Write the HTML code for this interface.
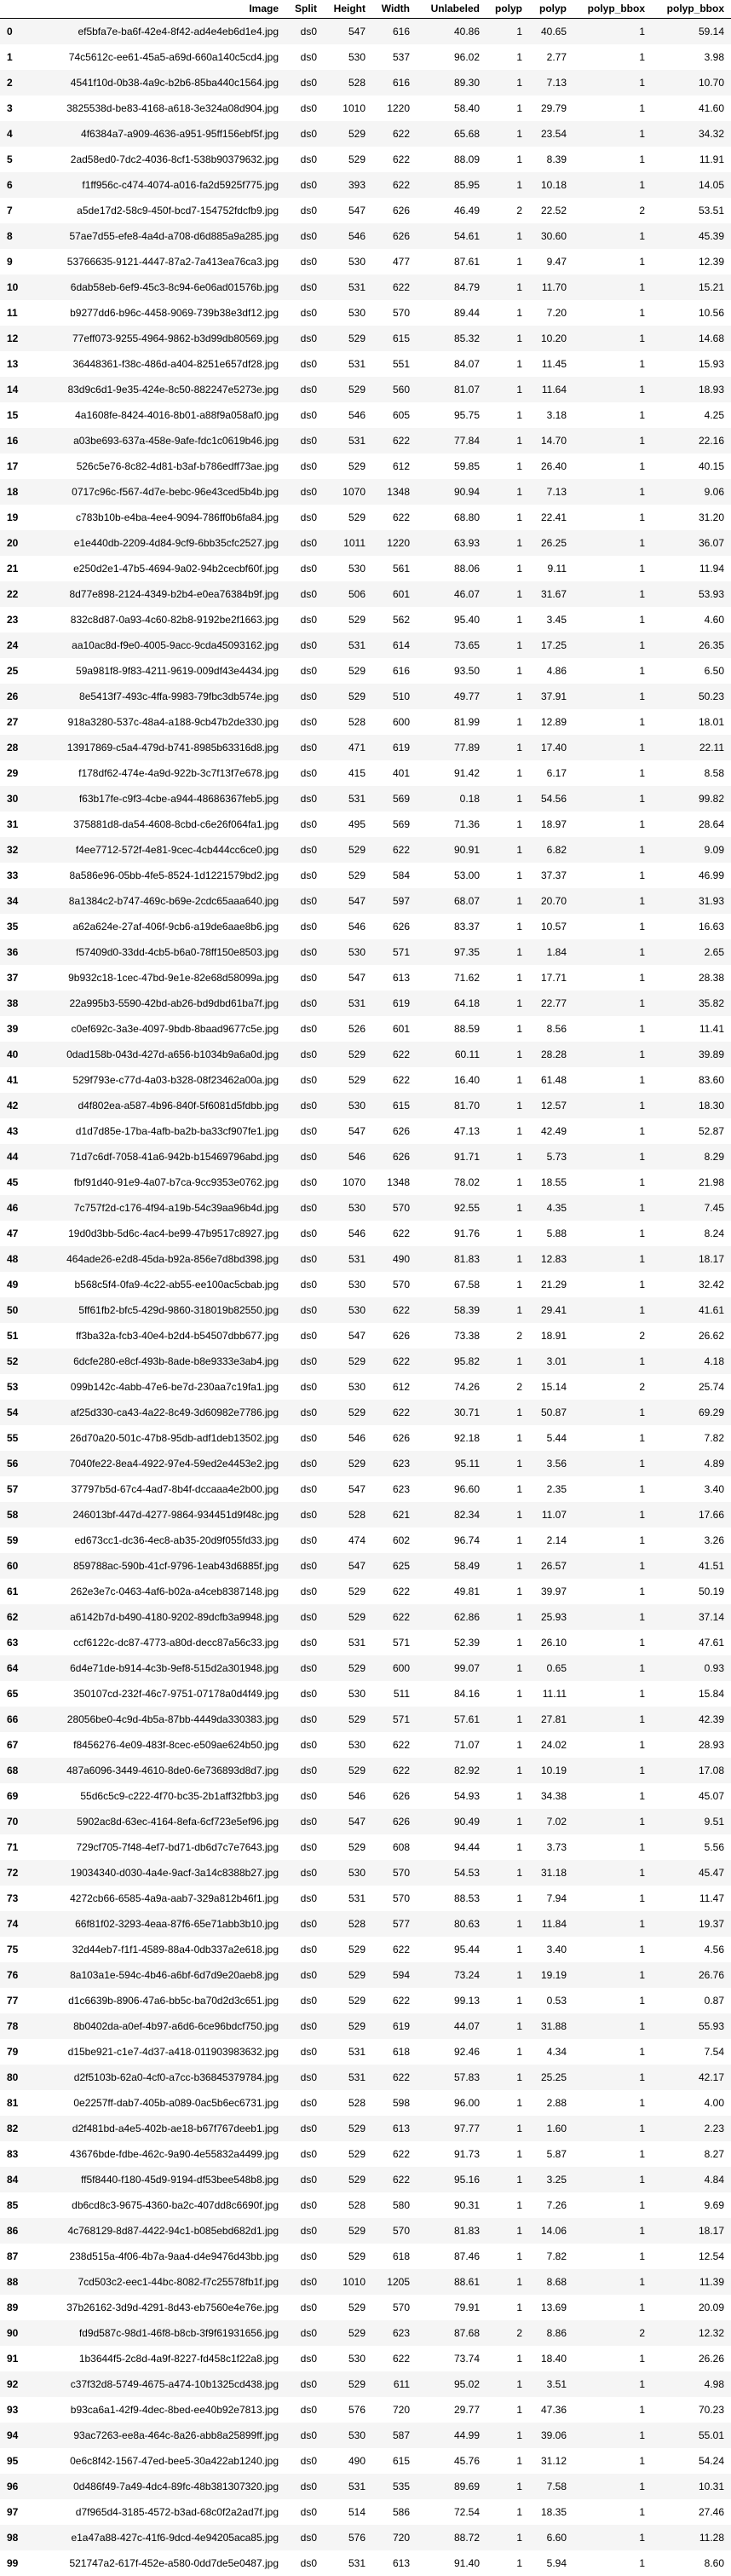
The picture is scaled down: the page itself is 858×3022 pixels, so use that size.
<!DOCTYPE html>
<html><head><meta charset="utf-8"><style>
html,body{margin:0;padding:0;background:#fff;}
body{width:858px;height:3015px;overflow:hidden;position:relative;font-family:"Liberation Sans",Arial,sans-serif;font-size:12px;color:#000;}
.row{position:absolute;left:0;width:858px;height:30px;}
.row.odd{background:#f5f5f5;}
.c{position:absolute;line-height:30px;white-space:nowrap;}
.h{font-weight:bold;}
#hdr{position:absolute;left:0;top:0;width:858px;height:21px;border-bottom:1px solid #000;}
#hdr .c{line-height:21px;}
</style></head><body>
<div id="hdr"></div>
<div id="body"></div>
<script>
const headers=["Image","Split","Height","Width","Unlabeled","polyp","polyp","polyp_bbox","polyp_bbox"];
const images=["ef5bfa7e-ba6f-42e4-8f42-ad4e4eb6d1e4","74c5612c-ee61-45a5-a69d-660a140c5cd4","4541f10d-0b38-4a9c-b2b6-85ba440c1564","3825538d-be83-4168-a618-3e324a08d904","4f6384a7-a909-4636-a951-95ff156ebf5f","2ad58ed0-7dc2-4036-8cf1-538b90379632","f1ff956c-c474-4074-a016-fa2d5925f775","a5de17d2-58c9-450f-bcd7-154752fdcfb9","57ae7d55-efe8-4a4d-a708-d6d885a9a285","53766635-9121-4447-87a2-7a413ea76ca3","6dab58eb-6ef9-45c3-8c94-6e06ad01576b","b9277dd6-b96c-4458-9069-739b38e3df12","77eff073-9255-4964-9862-b3d99db80569","36448361-f38c-486d-a404-8251e657df28","83d9c6d1-9e35-424e-8c50-882247e5273e","4a1608fe-8424-4016-8b01-a88f9a058af0","a03be693-637a-458e-9afe-fdc1c0619b46","526c5e76-8c82-4d81-b3af-b786edff73ae","0717c96c-f567-4d7e-bebc-96e43ced5b4b","c783b10b-e4ba-4ee4-9094-786ff0b6fa84","e1e440db-2209-4d84-9cf9-6bb35cfc2527","e250d2e1-47b5-4694-9a02-94b2cecbf60f","8d77e898-2124-4349-b2b4-e0ea76384b9f","832c8d87-0a93-4c60-82b8-9192be2f1663","aa10ac8d-f9e0-4005-9acc-9cda45093162","59a981f8-9f83-4211-9619-009df43e4434","8e5413f7-493c-4ffa-9983-79fbc3db574e","918a3280-537c-48a4-a188-9cb47b2de330","13917869-c5a4-479d-b741-8985b63316d8","f178df62-474e-4a9d-922b-3c7f13f7e678","f63b17fe-c9f3-4cbe-a944-48686367feb5","375881d8-da54-4608-8cbd-c6e26f064fa1","f4ee7712-572f-4e81-9cec-4cb444cc6ce0","8a586e96-05bb-4fe5-8524-1d1221579bd2","8a1384c2-b747-469c-b69e-2cdc65aaa640","a62a624e-27af-406f-9cb6-a19de6aae8b6","f57409d0-33dd-4cb5-b6a0-78ff150e8503","9b932c18-1cec-47bd-9e1e-82e68d58099a","22a995b3-5590-42bd-ab26-bd9dbd61ba7f","c0ef692c-3a3e-4097-9bdb-8baad9677c5e","0dad158b-043d-427d-a656-b1034b9a6a0d","529f793e-c77d-4a03-b328-08f23462a00a","d4f802ea-a587-4b96-840f-5f6081d5fdbb","d1d7d85e-17ba-4afb-ba2b-ba33cf907fe1","71d7c6df-7058-41a6-942b-b15469796abd","fbf91d40-91e9-4a07-b7ca-9cc9353e0762","7c757f2d-c176-4f94-a19b-54c39aa96b4d","19d0d3bb-5d6c-4ac4-be99-47b9517c8927","464ade26-e2d8-45da-b92a-856e7d8bd398","b568c5f4-0fa9-4c22-ab55-ee100ac5cbab","5ff61fb2-bfc5-429d-9860-318019b82550","ff3ba32a-fcb3-40e4-b2d4-b54507dbb677","6dcfe280-e8cf-493b-8ade-b8e9333e3ab4","099b142c-4abb-47e6-be7d-230aa7c19fa1","af25d330-ca43-4a22-8c49-3d60982e7786","26d70a20-501c-47b8-95db-adf1deb13502","7040fe22-8ea4-4922-97e4-59ed2e4453e2","37797b5d-67c4-4ad7-8b4f-dccaaa4e2b00","246013bf-447d-4277-9864-934451d9f48c","ed673cc1-dc36-4ec8-ab35-20d9f055fd33","859788ac-590b-41cf-9796-1eab43d6885f","262e3e7c-0463-4af6-b02a-a4ceb8387148","a6142b7d-b490-4180-9202-89dcfb3a9948","ccf6122c-dc87-4773-a80d-decc87a56c33","6d4e71de-b914-4c3b-9ef8-515d2a301948","350107cd-232f-46c7-9751-07178a0d4f49","28056be0-4c9d-4b5a-87bb-4449da330383","f8456276-4e09-483f-8cec-e509ae624b50","487a6096-3449-4610-8de0-6e736893d8d7","55d6c5c9-c222-4f70-bc35-2b1aff32fbb3","5902ac8d-63ec-4164-8efa-6cf723e5ef96","729cf705-7f48-4ef7-bd71-db6d7c7e7643","19034340-d030-4a4e-9acf-3a14c8388b27","4272cb66-6585-4a9a-aab7-329a812b46f1","66f81f02-3293-4eaa-87f6-65e71abb3b10","32d44eb7-f1f1-4589-88a4-0db337a2e618","8a103a1e-594c-4b46-a6bf-6d7d9e20aeb8","d1c6639b-8906-47a6-bb5c-ba70d2d3c651","8b0402da-a0ef-4b97-a6d6-6ce96bdcf750","d15be921-c1e7-4d37-a418-011903983632","d2f5103b-62a0-4cf0-a7cc-b36845379784","0e2257ff-dab7-405b-a089-0ac5b6ec6731","d2f481bd-a4e5-402b-ae18-b67f767deeb1","43676bde-fdbe-462c-9a90-4e55832a4499","ff5f8440-f180-45d9-9194-df53bee548b8","db6cd8c3-9675-4360-ba2c-407dd8c6690f","4c768129-8d87-4422-94c1-b085ebd682d1","238d515a-4f06-4b7a-9aa4-d4e9476d43bb","7cd503c2-eec1-44bc-8082-f7c25578fb1f","37b26162-3d9d-4291-8d43-eb7560e4e76e","fd9d587c-98d1-46f8-b8cb-3f9f61931656","1b3644f5-2c8d-4a9f-8227-fd458c1f22a8","c37f32d8-5749-4675-a474-10b1325cd438","b93ca6a1-42f9-4dec-8bed-ee40b92e7813","93ac7263-ee8a-464c-8a26-abb8a25899ff","0e6c8f42-1567-47ed-bee5-30a422ab1240","0d486f49-7a49-4dc4-89fc-48b381307320","d7f965d4-3185-4572-b3ad-68c0f2a2ad7f","e1a47a88-427c-41f6-9dcd-4e94205aca85","521747a2-617f-452e-a580-0dd7de5e0487"];
const heights=[547,530,528,1010,529,529,393,547,546,530,531,530,529,531,529,546,531,529,1070,529,1011,530,506,529,531,529,529,528,471,415,531,495,529,529,547,546,530,547,531,526,529,529,530,547,546,1070,530,546,531,530,530,547,529,530,529,546,529,547,528,474,547,529,529,531,529,530,529,530,529,546,547,529,530,531,528,529,529,529,529,531,531,528,529,529,529,528,529,529,1010,529,529,530,529,576,530,490,531,514,576,531];
const widths=[616,537,616,1220,622,622,622,626,626,477,622,570,615,551,560,605,622,612,1348,622,1220,561,601,562,614,616,510,600,619,401,569,569,622,584,597,626,571,613,619,601,622,622,615,626,626,1348,570,622,490,570,622,626,622,612,622,626,623,623,621,602,625,622,622,571,600,511,571,622,622,626,626,608,570,570,577,622,594,622,619,618,622,598,613,622,622,580,570,618,1205,570,623,622,611,720,587,615,535,586,720,613];
const unlabeled=[40.86,96.02,89.30,58.40,65.68,88.09,85.95,46.49,54.61,87.61,84.79,89.44,85.32,84.07,81.07,95.75,77.84,59.85,90.94,68.80,63.93,88.06,46.07,95.40,73.65,93.50,49.77,81.99,77.89,91.42,0.18,71.36,90.91,53.00,68.07,83.37,97.35,71.62,64.18,88.59,60.11,16.40,81.70,47.13,91.71,78.02,92.55,91.76,81.83,67.58,58.39,73.38,95.82,74.26,30.71,92.18,95.11,96.60,82.34,96.74,58.49,49.81,62.86,52.39,99.07,84.16,57.61,71.07,82.92,54.93,90.49,94.44,54.53,88.53,80.63,95.44,73.24,99.13,44.07,92.46,57.83,96.00,97.77,91.73,95.16,90.31,81.83,87.46,88.61,79.91,87.68,73.74,95.02,29.77,44.99,45.76,89.69,72.54,88.72,91.40];
const polypCount=[1,1,1,1,1,1,1,2,1,1,1,1,1,1,1,1,1,1,1,1,1,1,1,1,1,1,1,1,1,1,1,1,1,1,1,1,1,1,1,1,1,1,1,1,1,1,1,1,1,1,1,2,1,2,1,1,1,1,1,1,1,1,1,1,1,1,1,1,1,1,1,1,1,1,1,1,1,1,1,1,1,1,1,1,1,1,1,1,1,1,2,1,1,1,1,1,1,1,1,1];
const polypPct=[40.65,2.77,7.13,29.79,23.54,8.39,10.18,22.52,30.60,9.47,11.70,7.20,10.20,11.45,11.64,3.18,14.70,26.40,7.13,22.41,26.25,9.11,31.67,3.45,17.25,4.86,37.91,12.89,17.40,6.17,54.56,18.97,6.82,37.37,20.70,10.57,1.84,17.71,22.77,8.56,28.28,61.48,12.57,42.49,5.73,18.55,4.35,5.88,12.83,21.29,29.41,18.91,3.01,15.14,50.87,5.44,3.56,2.35,11.07,2.14,26.57,39.97,25.93,26.10,0.65,11.11,27.81,24.02,10.19,34.38,7.02,3.73,31.18,7.94,11.84,3.40,19.19,0.53,31.88,4.34,25.25,2.88,1.60,5.87,3.25,7.26,14.06,7.82,8.68,13.69,8.86,18.40,3.51,47.36,39.06,31.12,7.58,18.35,6.60,5.94];
const bboxCount=polypCount.slice();
const bboxPct=[59.14,3.98,10.70,41.60,34.32,11.91,14.05,53.51,45.39,12.39,15.21,10.56,14.68,15.93,18.93,4.25,22.16,40.15,9.06,31.20,36.07,11.94,53.93,4.60,26.35,6.50,50.23,18.01,22.11,8.58,99.82,28.64,9.09,46.99,31.93,16.63,2.65,28.38,35.82,11.41,39.89,83.60,18.30,52.87,8.29,21.98,7.45,8.24,18.17,32.42,41.61,26.62,4.18,25.74,69.29,7.82,4.89,3.40,17.66,3.26,41.51,50.19,37.14,47.61,0.93,15.84,42.39,28.93,17.08,45.07,9.51,5.56,45.47,11.47,19.37,4.56,26.76,0.87,55.93,7.54,42.17,4.00,2.23,8.27,4.84,9.69,18.17,12.54,11.39,20.09,12.32,26.26,4.98,70.23,55.01,54.24,10.31,27.46,11.28,8.60];

const rights=[327,372,429,481,563,613,665,757,850];
const colNames=["image","split","height","width","unlabeled","polyp-count","polyp-pct","bbox-count","bbox-pct"];
const hdr=document.getElementById('hdr');
headers.forEach((t,i)=>{
  const d=document.createElement('div');
  d.className='c h';
  d.style.right=(858-rights[i])+'px';
  d.textContent=t;
  
  
  hdr.appendChild(d);
});
const body=document.getElementById('body');
for(let r=0;r<images.length;r++){
  const row=document.createElement('div');
  row.className='row'+(r%2===0?' odd':'');
  row.style.top=(22+30*r)+'px';
  
  
  const idx=document.createElement('div');
  idx.className='c h';idx.style.left='8px';idx.textContent=r;
  
  
  row.appendChild(idx);
  const vals=[images[r]+'.jpg','ds0',heights[r],widths[r],unlabeled[r].toFixed(2),polypCount[r],polypPct[r].toFixed(2),bboxCount[r],bboxPct[r].toFixed(2)];
  vals.forEach((v,i)=>{
    const d=document.createElement('div');
    d.className='c';
    d.style.right=(858-rights[i])+'px';
    d.textContent=v;
    
    
    row.appendChild(d);
  });
  body.appendChild(row);
}
</script>
</body></html>
